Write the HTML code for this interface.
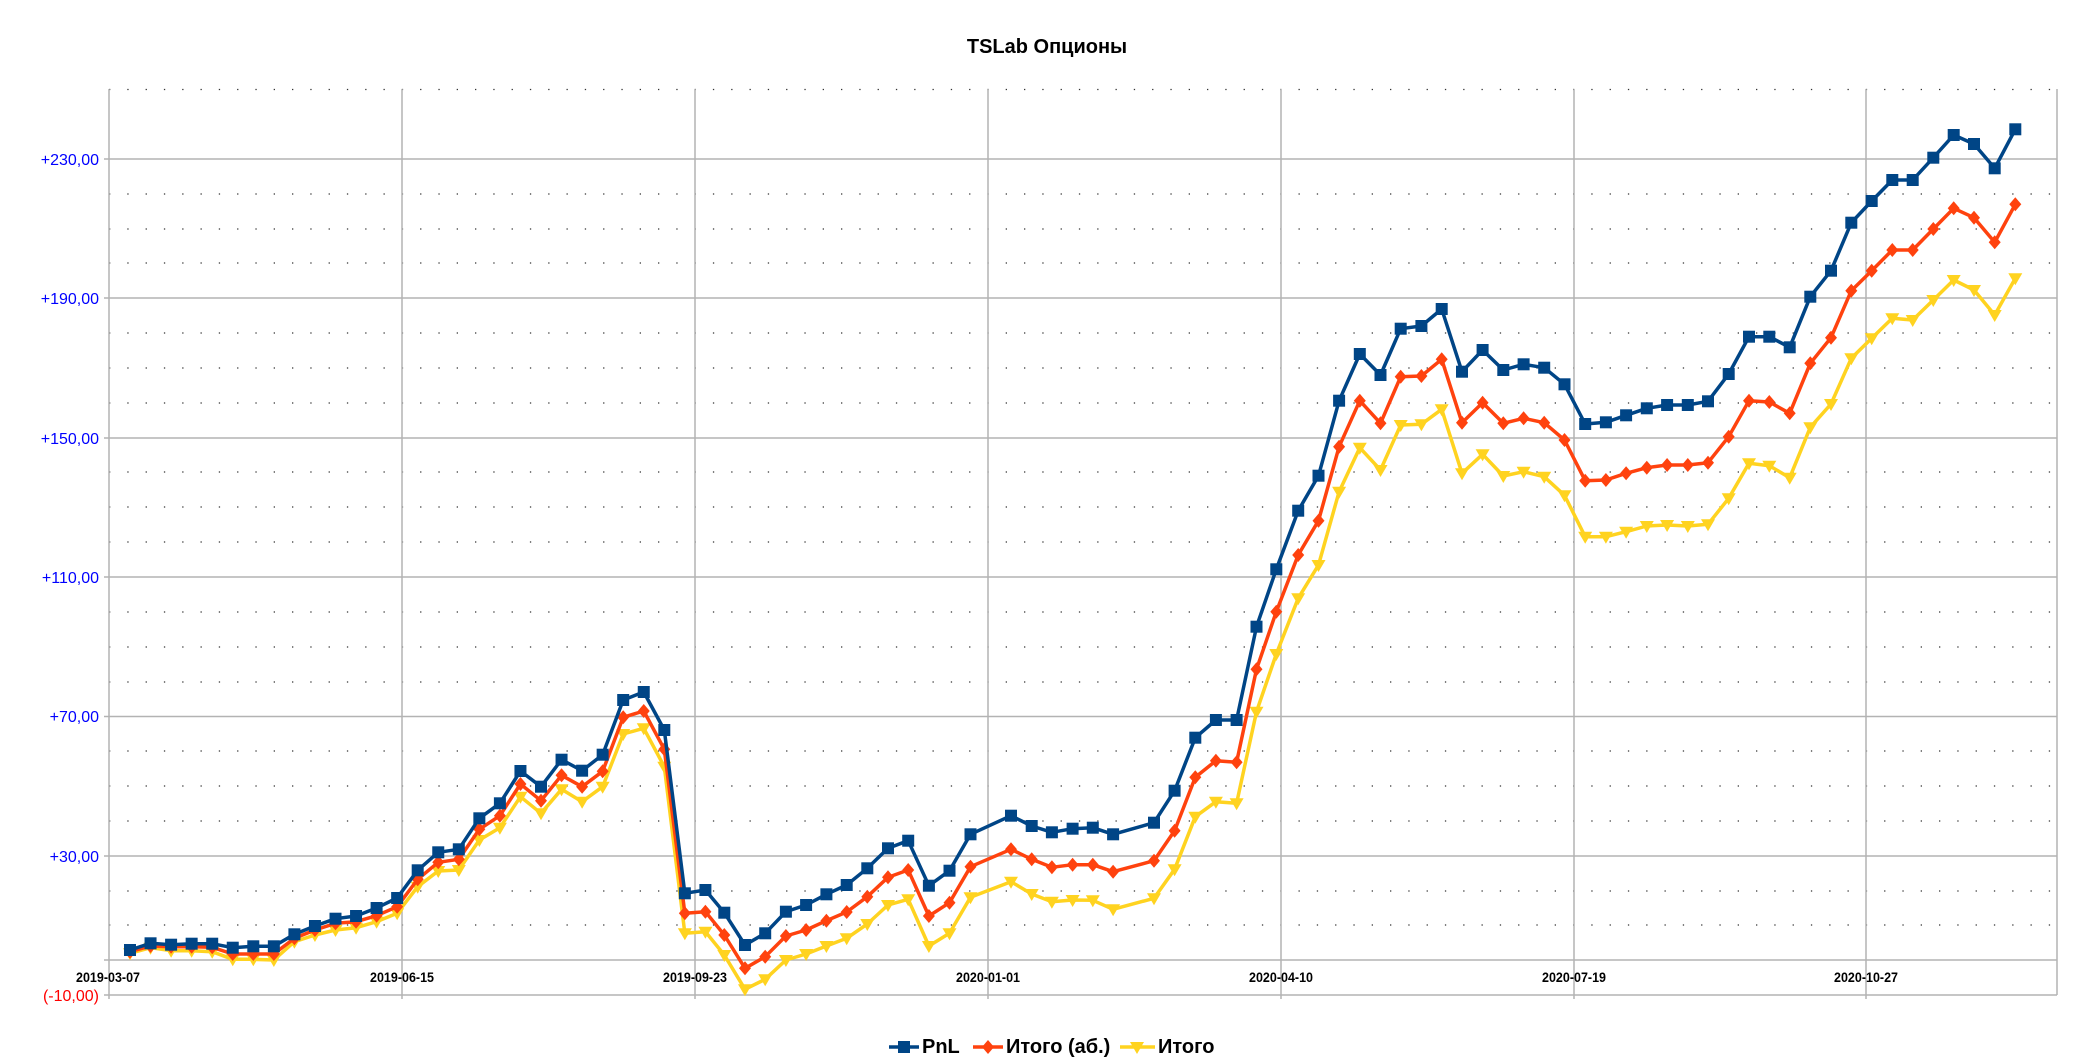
<!DOCTYPE html>
<html><head><meta charset="utf-8"><style>
html,body{margin:0;padding:0;background:#fff;}
svg{display:block;}
</style></head><body>
<svg width="2098" height="1061" viewBox="0 0 2098 1061" xmlns="http://www.w3.org/2000/svg" font-family="Liberation Sans, sans-serif">
<defs>
<rect id="sq" x="-6" y="-6" width="12" height="12" fill="#004586"/>
<path id="dm" d="M0,-7 L6,0 L0,7 L-6,0 Z" fill="#ff420e"/>
<path id="tr" d="M-7,-5 L7,-5 L0,7 Z" fill="#ffd320"/>
</defs>
<text x="1047" y="53" font-size="20" font-weight="bold" text-anchor="middle">TSLab Опционы</text>
<!-- dotted minor grid -->
<g stroke="#333" stroke-width="1.3" stroke-dasharray="1.3 17" fill="none">
<line x1="109" y1="89.5" x2="2057" y2="89.5"/>
<line x1="109" y1="194" x2="2057" y2="194"/>
<line x1="109" y1="229" x2="2057" y2="229"/>
<line x1="109" y1="263" x2="2057" y2="263"/>
<line x1="109" y1="333" x2="2057" y2="333"/>
<line x1="109" y1="368" x2="2057" y2="368"/>
<line x1="109" y1="403" x2="2057" y2="403"/>
<line x1="109" y1="472" x2="2057" y2="472"/>
<line x1="109" y1="507" x2="2057" y2="507"/>
<line x1="109" y1="542" x2="2057" y2="542"/>
<line x1="109" y1="612" x2="2057" y2="612"/>
<line x1="109" y1="647" x2="2057" y2="647"/>
<line x1="109" y1="682" x2="2057" y2="682"/>
<line x1="109" y1="751" x2="2057" y2="751"/>
<line x1="109" y1="786" x2="2057" y2="786"/>
<line x1="109" y1="821" x2="2057" y2="821"/>
<line x1="109" y1="891" x2="2057" y2="891"/>
<line x1="109" y1="925" x2="2057" y2="925"/>
</g>
<g stroke="#b3b3b3" stroke-width="1.5" fill="none">
<line x1="104" y1="159" x2="2057" y2="159"/>
<line x1="104" y1="298" x2="2057" y2="298"/>
<line x1="104" y1="438" x2="2057" y2="438"/>
<line x1="104" y1="577" x2="2057" y2="577"/>
<line x1="104" y1="716.5" x2="2057" y2="716.5"/>
<line x1="104" y1="856" x2="2057" y2="856"/>
<line x1="104" y1="960" x2="2057" y2="960"/>
<line x1="104" y1="995" x2="2057" y2="995"/>
<line x1="109" y1="89" x2="109" y2="999"/>
<line x1="2057" y1="89" x2="2057" y2="995"/>
<line x1="402" y1="89" x2="402" y2="999"/>
<line x1="695" y1="89" x2="695" y2="999"/>
<line x1="988" y1="89" x2="988" y2="999"/>
<line x1="1281" y1="89" x2="1281" y2="999"/>
<line x1="1574" y1="89" x2="1574" y2="999"/>
<line x1="1866" y1="89" x2="1866" y2="999"/>
</g>
<g font-size="16" fill="#0000ff" text-anchor="end">
<text x="99" y="165">+230,00</text>
<text x="99" y="304">+190,00</text>
<text x="99" y="444">+150,00</text>
<text x="99" y="583">+110,00</text>
<text x="99" y="722">+70,00</text>
<text x="99" y="862">+30,00</text>
<text x="99" y="1001" fill="#ff0000">(-10,00)</text>
</g>
<g font-size="14" font-weight="bold" text-anchor="middle">
<text x="108" y="982" textLength="64" lengthAdjust="spacingAndGlyphs">2019-03-07</text>
<text x="402" y="982" textLength="64" lengthAdjust="spacingAndGlyphs">2019-06-15</text>
<text x="695" y="982" textLength="64" lengthAdjust="spacingAndGlyphs">2019-09-23</text>
<text x="988" y="982" textLength="64" lengthAdjust="spacingAndGlyphs">2020-01-01</text>
<text x="1281" y="982" textLength="64" lengthAdjust="spacingAndGlyphs">2020-04-10</text>
<text x="1574" y="982" textLength="64" lengthAdjust="spacingAndGlyphs">2020-07-19</text>
<text x="1866" y="982" textLength="64" lengthAdjust="spacingAndGlyphs">2020-10-27</text>
</g>
<script>
</script>
<g id="series"></g>
<!-- legend -->
<line x1="889" y1="1047" x2="919" y2="1047" stroke="#004586" stroke-width="3.5"/>
<use href="#sq" x="904" y="1047"/>
<text x="922" y="1053" font-size="20" font-weight="bold">PnL</text>
<line x1="973" y1="1047" x2="1003" y2="1047" stroke="#ff420e" stroke-width="3.5"/>
<use href="#dm" x="988" y="1047"/>
<text x="1006" y="1053" font-size="20" font-weight="bold">Итого (аб.)</text>
<line x1="1120" y1="1047" x2="1155" y2="1047" stroke="#ffd320" stroke-width="3.5"/>
<use href="#tr" x="1137" y="1047"/>
<text x="1158" y="1053" font-size="20" font-weight="bold">Итого</text>
</svg>
<script>
(function(){
var X=[],P=[],O=[],Y=[];
var z4p=[950,943.3,944.7,943.7,943.7,947.7,946.3,946.3,934.3,926,918.7,916,908,898,870.3,852.3,849.3,818.3,803.3,771,786.7,759.7,770.7,754.7,700,692,730,893.3,890];
var z4o=[951.7,946,946.7,946.7,947.3,954,954,954,938.3,930,923.3,921.7,915.7,906.7,879.3,862.3,859.3,829.3,815.7,784,800.7,775.3,786.7,771.3,717.3,711,749.3,913.3,911.7];
var z4y=[953.3,947.7,950.7,950.7,951.7,959.3,959.3,960,941.7,935,930,927.7,921.7,913.3,886.7,871,870,840,827.7,796.7,813.3,789.3,801.7,786.7,734,728.3,766.7,933.3,931.7];
for(var i=0;i<29;i++){X.push(130+i*20.55);P.push(z4p[i]);O.push(z4o[i]);Y.push(z4y[i]);}
var rest=[
[724.3,912.7,935,955],[745,945,968.3,989.3],[765.2,933.3,956.7,979.3],[785.9,911.7,936,960],[806.1,905,930,954],[826.4,894.3,920.7,946],[846.7,885,912,938.3],[867.3,868.3,896.7,924],[888,848.3,877.3,905],[908.2,840.7,870,899.3],[928.9,885.7,916,946],[949.5,870.7,902.7,933.3],[970.5,834.3,866.7,897.3],[1011,815.7,849.3,881.7],[1031.7,826,859.3,894],[1051.9,832.3,867.3,901.7],[1072.6,828.7,864.7,900],[1092.8,827.7,864.7,900.3],[1113.1,834.3,871.7,909.3],[1154,822.7,860.7,898.3],[1174.6,790.7,830.7,869.3],[1195.3,737.7,777.3,816.7],[1215.9,720,760.7,801.7],[1236.6,720,762.3,803.3],[1256.5,626.7,669.3,711.7],[1276.3,569.3,611.7,654],
[1298.2,510.7,555,598.3],[1318.5,475.7,520.7,565],[1339.1,400.7,446.7,491.7],[1359.8,354,400.7,447.7],[1380.5,375,423.3,470],[1400.7,328.7,376.7,425],[1421.4,326,376,424.3],[1441.7,309,359.3,409.3],[1462,371.7,422.7,473.3],[1482.6,350,402.7,454.3],[1503.3,370,423.3,476],[1523.6,364.3,418.3,471.7],[1544.2,367.7,422.7,476.7],[1564.5,384.3,440,495.3],[1585.2,424,480.7,536.7],[1605.9,422.3,480,536.7],[1626.1,415.3,473.3,531.7],[1646.8,408.3,467.7,526],[1667.1,405,465,525],[1687.8,405,465,526],[1708,401.3,462.7,524.3],
[1728.7,374,436.7,498.3],[1749,336.7,400.7,463.3],[1769.3,336.7,402,465.7],[1789.7,347.3,413.3,477.7],[1810.3,296.7,363.3,427.3],[1831,270.7,337.7,404],[1851.3,222.7,290.7,358.3],[1871.7,201,270.7,338.3],[1892.3,180,250,318.3],[1912.7,180,250,320],[1933.3,157.7,229,300],[1953.7,135,208.3,280],[1974,144,217.7,290],[1994.7,168.3,242.3,315],[2015.3,129.3,204.3,278.3]];
rest.forEach(function(r){X.push(r[0]);P.push(r[1]);O.push(r[2]);Y.push(r[3]);});
var ns="http://www.w3.org/2000/svg",g=document.getElementById("series");
function draw(arr,col,mk){
 var pts=X.map(function(x,i){return x+","+arr[i];}).join(" ");
 var pl=document.createElementNS(ns,"polyline");
 pl.setAttribute("points",pts);pl.setAttribute("fill","none");pl.setAttribute("stroke",col);
 pl.setAttribute("stroke-width","3.5");pl.setAttribute("stroke-linejoin","round");
 g.appendChild(pl);
 X.forEach(function(x,i){var u=document.createElementNS(ns,"use");u.setAttribute("href","#"+mk);u.setAttribute("x",x);u.setAttribute("y",arr[i]);g.appendChild(u);});
}
draw(Y,"#ffd320","tr");draw(O,"#ff420e","dm");draw(P,"#004586","sq");
})();
</script>
</body></html>
